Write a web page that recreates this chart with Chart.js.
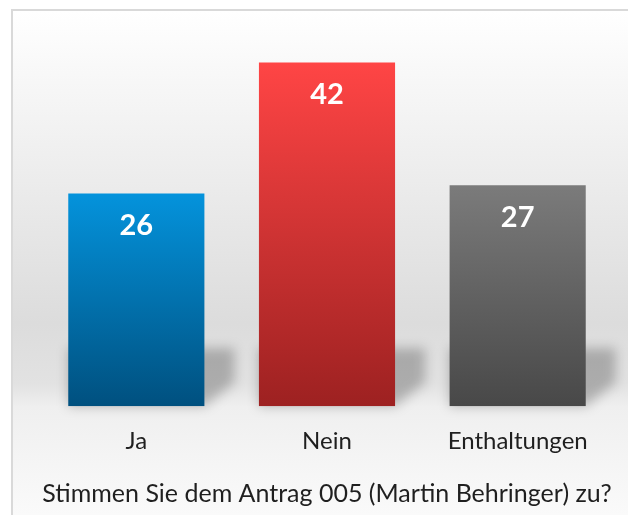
<!DOCTYPE html>
<html>
<head>
<meta charset="utf-8">
<script src="https://cdn.jsdelivr.net/npm/chart.js@4"></script>
<style>
  html, body { margin: 0; padding: 0; background: #ffffff; }
  #grafico_box { width: 628px; height: 515px; }
</style>
</head>
<body>
<div id="grafico_box"><canvas id="myChart"></canvas></div>
<script>
// dados da votacao
let categorias = ['Ja', 'Nein', 'Enthaltungen'];
let votos = [26, 42, 27];
let titulo_texto = 'Stimmen Sie dem Antrag 005 (Martin Behringer) zu?';

// cores de cada barra (em cima -> em baixo)
let cores_topo = ['#0493dc', '#ff4545', '#7b7b7b'];
let cores_base = ['#00507f', '#9d2121', '#484848'];

// fundo com degrade e a borda cinza
const fundoPlugin = {
  id: 'fundo',
  beforeDraw(chart) {
    let ctx = chart.ctx;
    let w = chart.width, h = chart.height;
    ctx.save();
    ctx.fillStyle = '#ffffff';
    ctx.fillRect(0, 0, w, h);
    let grad = ctx.createLinearGradient(0, 11, 0, h);
    grad.addColorStop(0, '#ffffff');
    grad.addColorStop(0.62, '#dcdcdc');
    grad.addColorStop(0.74, '#e2e2e2');
    grad.addColorStop(0.785, '#efefef');
    grad.addColorStop(1, '#fafafa');
    ctx.fillStyle = grad;
    ctx.fillRect(12, 11, w - 12, h - 11);
    ctx.strokeStyle = '#d9d9d9';
    ctx.lineWidth = 2;
    ctx.beginPath();
    ctx.moveTo(12, h);
    ctx.lineTo(12, 10);
    ctx.lineTo(w, 10);
    ctx.stroke();
    ctx.restore();
  }
};

// sombra atras das barras (usa a posicao que o chart calculou)
const sombraPlugin = {
  id: 'sombra',
  beforeDatasetsDraw(chart) {
    let ctx = chart.ctx;
    let meta = chart.getDatasetMeta(0);
    ctx.save();
    ctx.filter = 'blur(6px)';
    ctx.fillStyle = 'rgba(0,0,0,0.24)';
    meta.data.forEach(barra => {
      let p = barra.getProps(['x', 'width', 'base'], true);
      let esq = p.x - p.width / 2;
      let dir = p.x + p.width / 2;
      ctx.beginPath();
      ctx.moveTo(esq, p.base - 58);
      ctx.lineTo(dir + 30, p.base - 58);
      ctx.lineTo(dir + 30, p.base - 24);
      ctx.lineTo(dir, p.base);
      ctx.lineTo(esq, p.base);
      ctx.closePath();
      ctx.fill();
    });
    ctx.restore();
  }
};

// numeros brancos dentro das barras
const rotulosPlugin = {
  id: 'rotulos',
  afterDatasetsDraw(chart) {
    let ctx = chart.ctx;
    let meta = chart.getDatasetMeta(0);
    ctx.save();
    ctx.fillStyle = '#ffffff';
    ctx.font = 'bold 29px Lato';
    ctx.textAlign = 'center';
    ctx.textBaseline = 'middle';
    meta.data.forEach((barra, i) => {
      ctx.fillText(String(votos[i]), barra.x, barra.y + 32);
    });
    ctx.restore();
  }
};

let ctx = document.getElementById('myChart');
let grafico = new Chart(ctx, {
  type: 'bar',
  data: {
    labels: categorias,
    datasets: [{
      data: votos,
      backgroundColor: (c) => {
        let chart = c.chart;
        let i = c.dataIndex;
        if (!chart.chartArea || !chart.scales.y) return cores_topo[i];
        let y_topo = chart.scales.y.getPixelForValue(votos[i]);
        let y_base = chart.scales.y.getPixelForValue(0);
        let g = chart.ctx.createLinearGradient(0, y_topo, 0, y_base);
        g.addColorStop(0, cores_topo[i]);
        g.addColorStop(1, cores_base[i]);
        return g;
      },
      borderWidth: 0,
      barPercentage: 0.714,
      categoryPercentage: 1
    }]
  },
  options: {
    responsive: true,
    maintainAspectRatio: false,
    animation: false,
    devicePixelRatio: 1,
    layout: { padding: { left: 41, right: 15, top: 38, bottom: 1 } },
    plugins: {
      legend: { display: false },
      tooltip: { enabled: false },
      title: {
        display: true,
        text: titulo_texto,
        position: 'bottom',
        color: '#1f1f1f',
        font: { family: 'Lato', size: 25, weight: 'normal' },
        padding: { top: 2, bottom: 5 }
      }
    },
    scales: {
      x: {
        grid: { display: false, drawTicks: false },
        border: { display: false },
        ticks: {
          color: '#1f1f1f',
          font: { family: 'Lato', size: 24 },
          padding: 21
        }
      },
      y: {
        display: false,
        min: 0,
        max: 45
      }
    }
  },
  plugins: [fundoPlugin, sombraPlugin, rotulosPlugin]
});
</script>
</body>
</html>
